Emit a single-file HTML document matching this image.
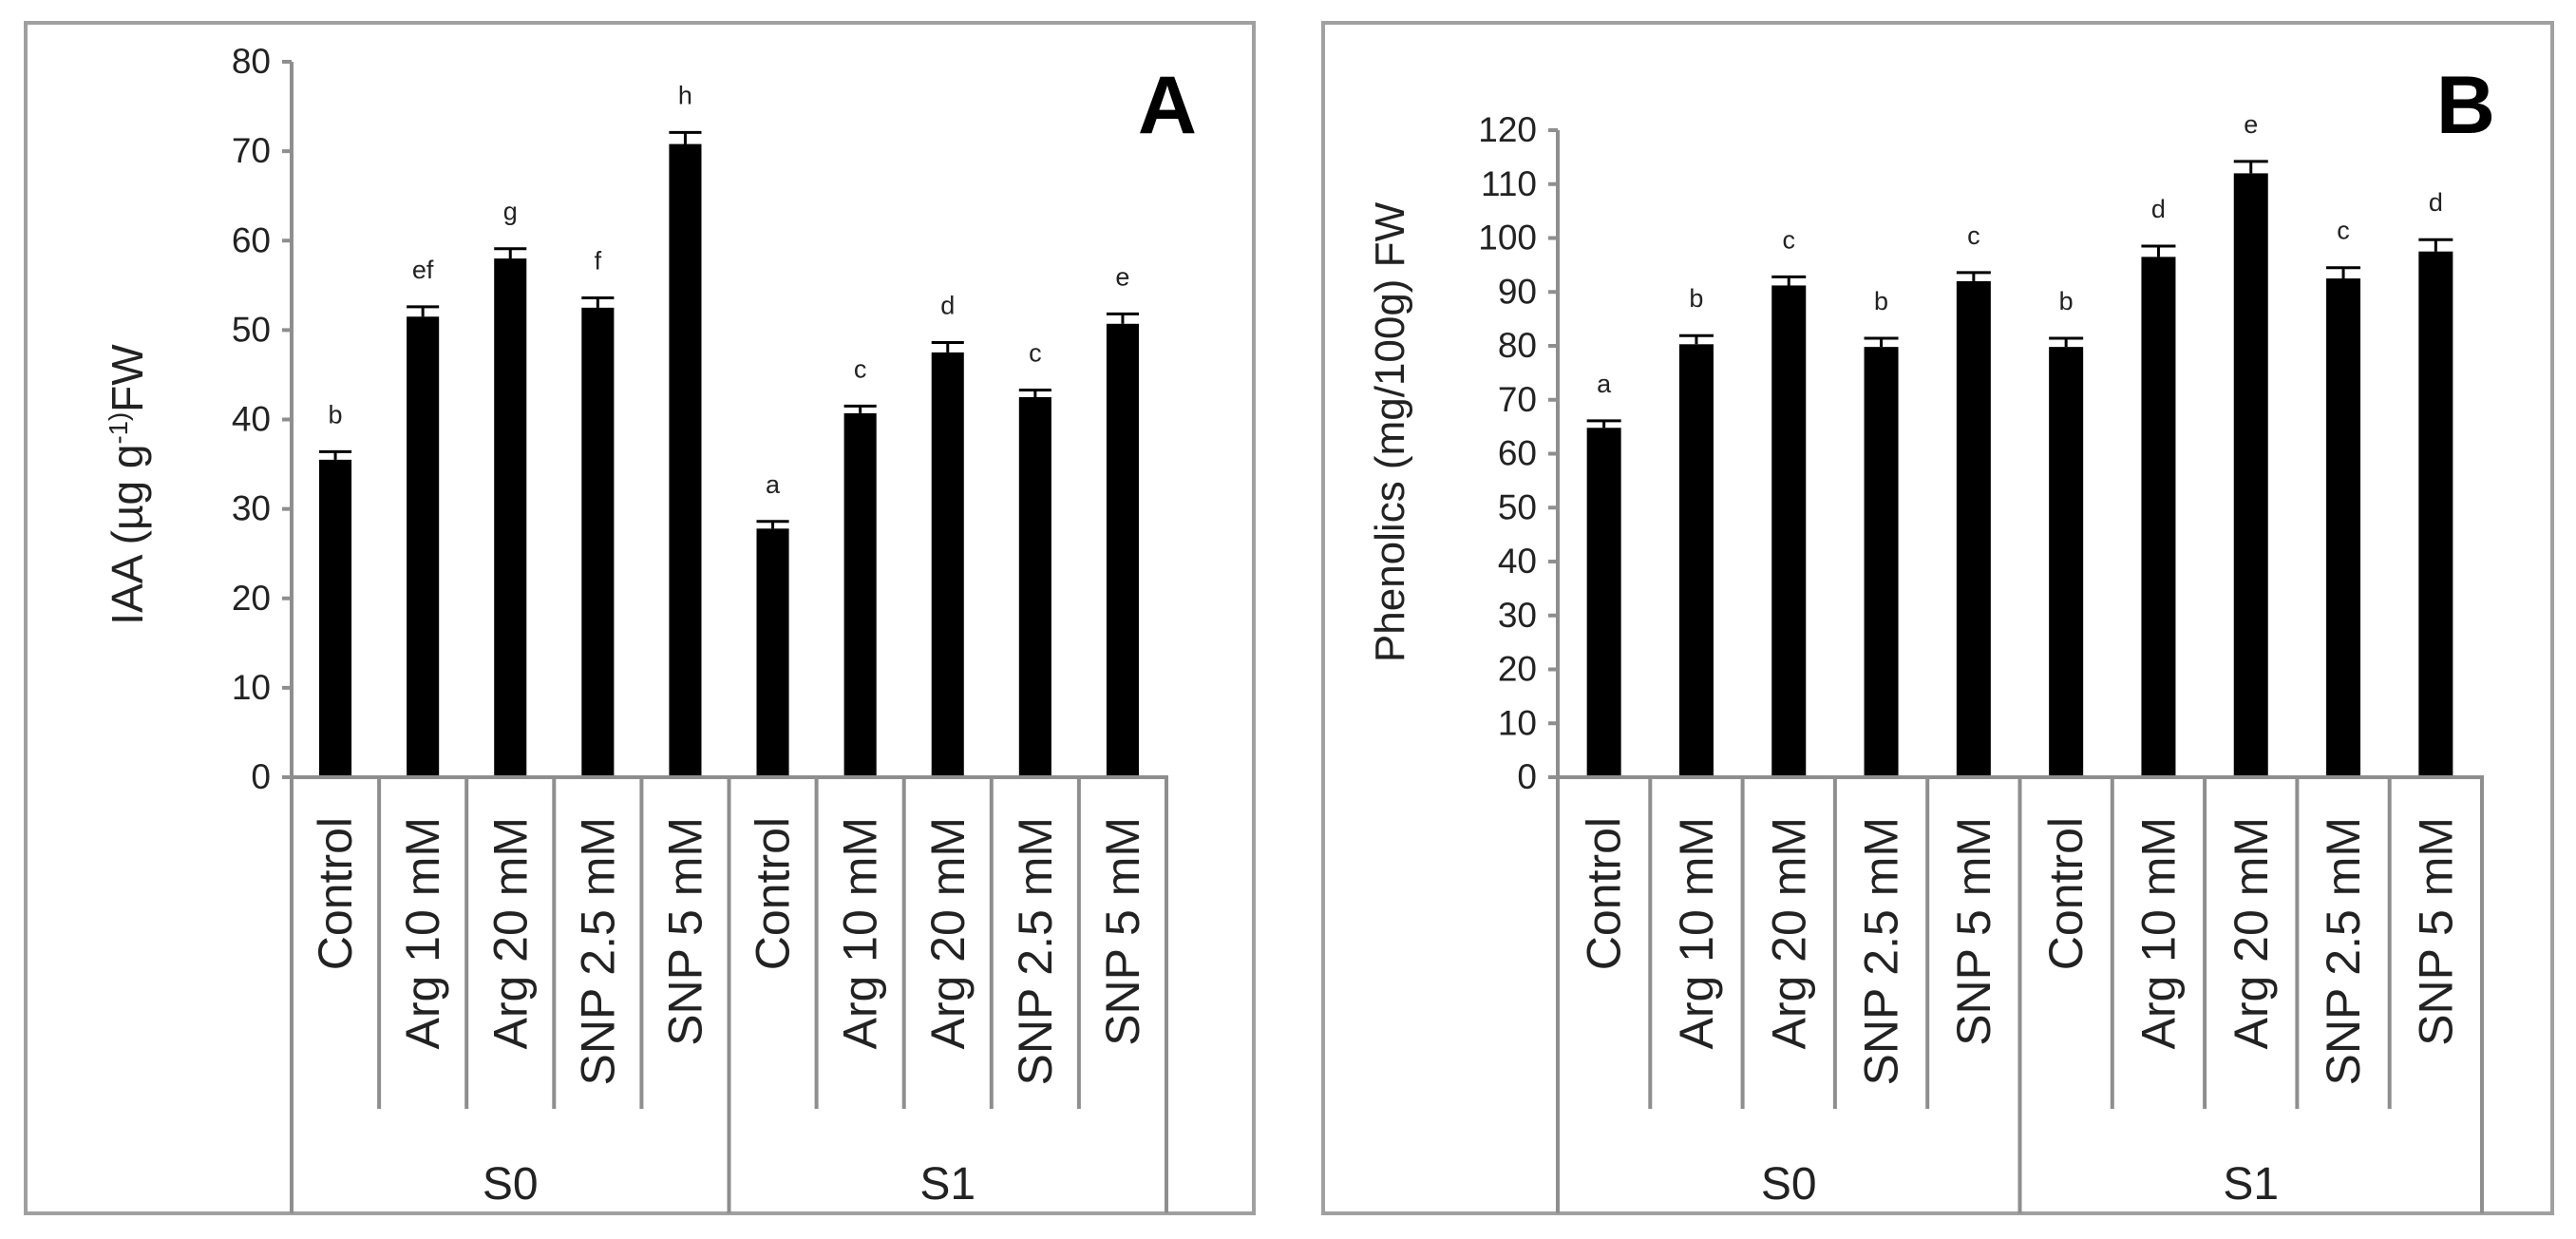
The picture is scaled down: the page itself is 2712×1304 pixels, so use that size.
<!DOCTYPE html>
<html><head><meta charset="utf-8"><style>
html,body{margin:0;padding:0;background:#fff;}
svg{display:block;font-family:"Liberation Sans","DejaVu Sans",sans-serif;}
</style></head><body>
<svg id="chart" width="2712" height="1304" viewBox="0 0 2712 1304" xmlns="http://www.w3.org/2000/svg"></svg>
<script>
const categories = ["Control","Arg 10 mM","Arg 20 mM","SNP 2.5 mM","SNP 5 mM","Control","Arg 10 mM","Arg 20 mM","SNP 2.5 mM","SNP 5 mM"];
const groups = ["S0","S1"];
const valuesA = [35.5,51.5,58.0,52.5,70.8,27.8,40.7,47.5,42.5,50.7];
const errorsA = [0.9,1.1,1.1,1.1,1.3,0.8,0.8,1.1,0.8,1.1];
const lettersA = ["b","ef","g","f","h","a","c","d","c","e"];
const ticksA = [0,10,20,30,40,50,60,70,80];
const valuesB = [64.8,80.3,91.2,79.8,92.0,79.8,96.5,112.0,92.5,97.5];
const errorsB = [1.3,1.6,1.6,1.6,1.6,1.6,2.0,2.2,2.0,2.2];
const lettersB = ["a","b","c","b","c","b","d","e","c","d"];
const ticksB = [0,10,20,30,40,50,60,70,80,90,100,110,120];

const NS="http://www.w3.org/2000/svg";
const svg=document.getElementById('chart');
function el(tag,attrs,parent,text){const e=document.createElementNS(NS,tag);for(const k in attrs)e.setAttribute(k,attrs[k]);if(text!==undefined)e.textContent=text;(parent||svg).appendChild(e);return e;}
const GRAY="#8e8e8e";

function panel(cfg){
  const g=el('g',{});
  
  
  const border=el('rect',{x:cfg.bx,y:24,width:cfg.bw,height:1253,fill:'none',stroke:'#a0a0a0','stroke-width':4},g);
  
  
  const y0=818, yTop=cfg.yTop, max=cfg.ticks[cfg.ticks.length-1];
  const yScale=v=>y0-(v/max)*(y0-yTop);
  const ax=cfg.ax, cw=cfg.cw, n=categories.length;
  const xC=i=>ax+cw*(i+0.5);
  const yaxis=el('line',{x1:ax,y1:yTop,x2:ax,y2:y0,stroke:GRAY,'stroke-width':4},g);
  
  
  cfg.ticks.forEach(t=>{
    const y=yScale(t);
    const tk=el('line',{x1:ax-10,y1:y,x2:ax,y2:y,stroke:GRAY,'stroke-width':4},g);
    
    
    const tl=el('text',{x:ax-22,y:y+12,'text-anchor':'end','font-size':cfg.tickFont,fill:'#222'},g,String(t));
    
    
  });
  const tt=el('text',{x:0,y:0,'text-anchor':'middle','font-size':cfg.titleFont,fill:'#222',transform:`translate(${cfg.titleX},${cfg.titleY}) rotate(-90)`},g);
  
  
  if(cfg.sup){
    el('tspan',{},tt,cfg.title[0]);
    el('tspan',{'font-size':cfg.titleFont*0.6,dy:-16},tt,cfg.sup);
    el('tspan',{dy:16},tt,cfg.title[1]);
  } else tt.textContent=cfg.title;
  cfg.values.forEach((v,i)=>{
    const bw=cw*0.37, x=xC(i)-bw/2, y=yScale(v);
    const b=el('rect',{x:x,y:y,width:bw,height:y0-y,fill:'#000'},g);
    
    
    const ye=yScale(v+cfg.errors[i]);
    const eb=el('path',{d:`M${xC(i)} ${y} V${ye} M${xC(i)-bw/2} ${ye} H${xC(i)+bw/2}`,stroke:'#000','stroke-width':3,fill:'none'},g);
    
    
    const lt=el('text',{x:xC(i),y:ye-30,'text-anchor':'middle','font-size':27,fill:'#222'},g,cfg.letters[i]);
    
    
  });
  const right=ax+cw*n;
  const xl=el('path',{d:`M${ax-10} ${y0} H${right} V1277 M${ax} ${y0} V1277`,stroke:GRAY,'stroke-width':4,fill:'none'},g);
  
  
  for(let i=1;i<n;i++){
    const x=ax+cw*i;
    const d=el('line',{x1:x,y1:y0,x2:x,y2:(i===5?1277:1167),stroke:GRAY,'stroke-width':4},g);
    
    
  }
  categories.forEach((c,i)=>{
    const t=el('text',{x:0,y:0,'text-anchor':'end','font-size':50,fill:'#222',transform:`translate(${xC(i)+17},860) rotate(-90)`},g,c);
    
    
  });
  groups.forEach((s,k)=>{
    const t=el('text',{x:ax+cw*(k*5+2.5),y:1262,'text-anchor':'middle','font-size':48,fill:'#222'},g,s);
    
    
  });
  const pl=el('text',{x:cfg.bx+cfg.bw-60,y:140,'text-anchor':'end','font-size':86,'font-weight':'bold',fill:'#000'},g,cfg.label);
  
  
}

panel({name:'panel-a-iaa',bx:27,bw:1293,ax:307,cw:92.1,yTop:65,ticks:ticksA,values:valuesA,errors:errorsA,letters:lettersA,
  tickFont:37,titleFont:46,titleX:150,titleY:510,title:['IAA (µg g','FW'],sup:'-1)',label:'A'});
panel({name:'panel-b-phenolics',bx:1393,bw:1294,ax:1640,cw:97.3,yTop:137,ticks:ticksB,values:valuesB,errors:errorsB,letters:lettersB,
  tickFont:37,titleFont:44,titleX:1478,titleY:455,title:'Phenolics (mg/100g) FW',label:'B'});
</script>
</body></html>
